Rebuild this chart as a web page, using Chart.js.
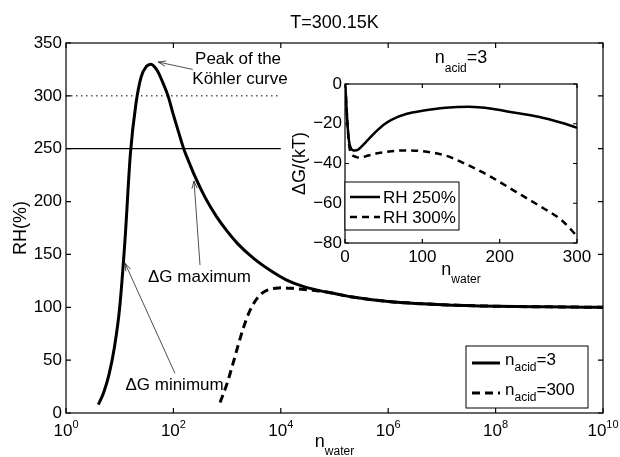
<!DOCTYPE html>
<html>
<head>
<meta charset="utf-8">
<script src="https://cdn.jsdelivr.net/npm/chart.js@4.4.1/dist/chart.umd.min.js"></script>
<style>
  html, body { margin: 0; padding: 0; background: #fff; }
  #wrap { position: relative; width: 620px; height: 457px; }
  #main { position: absolute; left: 0; top: 0; }
  #inset { position: absolute; left: 282px; top: 46px; }
</style>
</head>
<body>
<div id="wrap">
  <canvas id="main" width="620" height="457"></canvas>
  <canvas id="inset" width="318" height="244"></canvas>
</div>
<script>
// --- values ---
const nWaterAcid3 = [4, 5, 6.3, 7.9, 10, 12.6, 15.8, 20, 25.1, 31.6, 38, 50, 63, 79.4, 100, 126, 158, 200, 251, 398, 631, 1000, 1585, 3162, 6310, 12589, 25119, 50119, 1e5, 2e5, 1e6, 1e7, 1e8, 1e9, 1e10];
const rhAcid3 = [8, 19, 36, 61, 100, 165, 245, 292, 318, 328, 330, 324, 313, 300, 282, 265, 249, 236, 224, 203, 186, 172, 160, 146, 135, 126, 120, 116, 113, 110, 105.5, 102.5, 101, 100.4, 100];

const nWaterAcid300 = [741, 1000, 1259, 1585, 1995, 2512, 3162, 3981, 5012, 6310, 7943, 1e4, 15849, 25119, 50119, 1e5, 2e5, 1e6, 1e7, 1e8, 1e9, 1e10];
const rhAcid300 = [10, 28, 45, 63, 80, 94, 104, 111, 115, 117, 118, 118.5, 118, 117, 115.5, 113, 110, 105.5, 102.5, 101, 100.4, 100];

const refRange = [1, 1e4];      // horizontal RH lines span
const rhLevels = [250, 300];

const xTicksMain = [1, 1e2, 1e4, 1e6, 1e8, 1e10];
const xTickExp = ['0', '2', '4', '6', '8', '10'];
const yTicksMain = [0, 50, 100, 150, 200, 250, 300, 350];

// inset: dG/(kT) vs n_water for n_acid = 3
const nWaterInset = [0, 1, 2, 3, 4, 5, 6, 8, 10, 13, 17, 20, 30, 40, 50, 60, 80, 100, 130, 160, 190, 220, 250, 280, 300];
const dG250 = [0, -5, -12, -19, -24, -28, -30.5, -32.5, -33.3, -33.5, -33, -32, -28, -24, -20.5, -18, -15, -13.5, -12, -11.5, -12.5, -14.5, -16.5, -19.5, -22];
const dG300 = [0, -5, -12, -19, -25, -29.5, -32.5, -35, -36, -36.5, -37, -37, -36, -35, -34.3, -33.8, -33.4, -33.8, -36, -41, -47, -54, -61, -68.5, -76.5];

const xTicksInset = [0, 100, 200, 300];
const yTicksInset = [0, -20, -40, -60, -80];

// annotation anchors in data units (n_water, RH)
const peakTip = [52, 332], peakTail = [229, 325];
const maxTip = [242, 219.5], maxTail = [313, 140], maxText = [306, 128];
const minTip = [12.6, 141.6], minTail = [107, 37.5], minText = [105, 26.5];
const peakText1 = [1600, 335], peakText2 = [1740, 316];

const FONT = "'Liberation Sans', Arial, Helvetica, sans-serif";
const font = (px) => px + 'px ' + FONT;

const pts = (xs, ys) => xs.map((x, i) => ({ x: x, y: ys[i] }));

// text with sub/superscript parts: [text, size, dy]
function drawRich(ctx, x, y, parts, align) {
    let w = 0;
    parts.forEach(p => { ctx.font = font(p[1]); w += ctx.measureText(p[0]).width; });
    let cx = align === 'center' ? x - w / 2 : x;
    ctx.textAlign = 'left';
    ctx.textBaseline = 'alphabetic';
    parts.forEach(p => {
        ctx.font = font(p[1]);
        ctx.fillText(p[0], cx, y + (p[2] || 0));
        cx += ctx.measureText(p[0]).width;
    });
}

function drawFrame(ctx, chart, xTicks, yTicks, len) {
    const a = chart.chartArea, sx = chart.scales.x, sy = chart.scales.y;
    ctx.strokeStyle = '#000';
    ctx.lineWidth = 1.2;
    ctx.setLineDash([]);
    ctx.strokeRect(a.left, a.top, a.right - a.left, a.bottom - a.top);
    ctx.beginPath();
    xTicks.forEach(v => {
        const px = sx.getPixelForValue(v);
        ctx.moveTo(px, a.bottom); ctx.lineTo(px, a.bottom - len);
        ctx.moveTo(px, a.top); ctx.lineTo(px, a.top + len);
    });
    yTicks.forEach(v => {
        const py = sy.getPixelForValue(v);
        ctx.moveTo(a.left, py); ctx.lineTo(a.left + len, py);
        ctx.moveTo(a.right, py); ctx.lineTo(a.right - len, py);
    });
    ctx.stroke();
}

function drawArrow(ctx, x0, y0, x1, y1) {
    const ang = Math.atan2(y1 - y0, x1 - x0), L = 8, w = 0.33;
    ctx.beginPath();
    ctx.moveTo(x0, y0); ctx.lineTo(x1, y1);
    ctx.moveTo(x1 - L * Math.cos(ang - w), y1 - L * Math.sin(ang - w));
    ctx.lineTo(x1, y1);
    ctx.lineTo(x1 - L * Math.cos(ang + w), y1 - L * Math.sin(ang + w));
    ctx.stroke();
}

function legendLine(ctx, x0, x1, y, ds) {
    ctx.beginPath();
    ctx.lineWidth = ds.borderWidth;
    ctx.setLineDash(ds.borderDash || []);
    ctx.moveTo(x0, y); ctx.lineTo(x1, y);
    ctx.stroke();
    ctx.setLineDash([]);
}

const mainDecor = {
    id: 'mainDecor',
    afterDraw(chart) {
        const ctx = chart.ctx, a = chart.chartArea, sx = chart.scales.x, sy = chart.scales.y;
        const P = (d) => [sx.getPixelForValue(d[0]), sy.getPixelForValue(d[1])];
        ctx.save();
        drawFrame(ctx, chart, xTicksMain, yTicksMain, 5);
        ctx.fillStyle = '#000';

        // tick labels
        xTicksMain.forEach((v, i) => {
            drawRich(ctx, sx.getPixelForValue(v), a.bottom + 23, [['10', 17], [xTickExp[i], 11, -8]], 'center');
        });
        ctx.font = font(17);
        ctx.textAlign = 'right';
        ctx.textBaseline = 'middle';
        yTicksMain.forEach(v => ctx.fillText(String(v), a.left - 4, sy.getPixelForValue(v)));

        // title and axis labels
        ctx.font = font(18);
        ctx.textAlign = 'center';
        ctx.textBaseline = 'alphabetic';
        ctx.fillText('T=300.15K', (a.left + a.right) / 2, a.top - 15);
        ctx.save();
        ctx.translate(26, (a.top + a.bottom) / 2);
        ctx.rotate(-Math.PI / 2);
        ctx.fillText('RH(%)', 0, 0);
        ctx.restore();
        drawRich(ctx, (a.left + a.right) / 2, a.bottom + 34, [['n', 18], ['water', 12, 8]], 'center');

        // annotations
        ctx.strokeStyle = '#222';
        ctx.lineWidth = 0.8;
        let t = P(peakTail), h = P(peakTip);
        drawArrow(ctx, t[0], t[1], h[0], h[1]);
        t = P(maxTail); h = P(maxTip);
        drawArrow(ctx, t[0], t[1], h[0], h[1]);
        t = P(minTail); h = P(minTip);
        drawArrow(ctx, t[0], t[1], h[0], h[1]);
        ctx.font = font(17);
        ctx.textAlign = 'center';
        ctx.textBaseline = 'middle';
        let p = P(peakText1); ctx.fillText('Peak of the', p[0], p[1]);
        p = P(peakText2); ctx.fillText('Köhler curve', p[0], p[1]);
        p = P(maxText); ctx.fillText('ΔG maximum', p[0], p[1]);
        p = P(minText); ctx.fillText('ΔG minimum', p[0], p[1]);

        // legend
        const ds = chart.data.datasets;
        const bx = a.right - 137, by = a.bottom - 67, bw = 122, bh = 62;
        ctx.fillStyle = '#fff';
        ctx.fillRect(bx, by, bw, bh);
        ctx.strokeStyle = '#000';
        ctx.lineWidth = 1;
        ctx.strokeRect(bx, by, bw, bh);
        ctx.fillStyle = '#000';
        legendLine(ctx, bx + 6, bx + 34, by + 17, ds[0]);
        legendLine(ctx, bx + 6, bx + 34, by + 47, ds[1]);
        drawRich(ctx, bx + 39, by + 19, [['n', 17], ['acid', 12, 6], ['=3', 17]], 'left');
        drawRich(ctx, bx + 39, by + 49, [['n', 17], ['acid', 12, 6], ['=300', 17]], 'left');
        ctx.restore();
    }
};

const insetDecor = {
    id: 'insetDecor',
    afterDraw(chart) {
        const ctx = chart.ctx, a = chart.chartArea, sx = chart.scales.x, sy = chart.scales.y;
        ctx.save();
        drawFrame(ctx, chart, xTicksInset, yTicksInset, 4);
        ctx.fillStyle = '#000';
        ctx.font = font(17);
        ctx.textAlign = 'center';
        ctx.textBaseline = 'alphabetic';
        xTicksInset.forEach(v => ctx.fillText(String(v), sx.getPixelForValue(v), a.bottom + 19));
        ctx.textAlign = 'right';
        ctx.textBaseline = 'middle';
        yTicksInset.forEach(v => ctx.fillText(String(v).replace('-', '\u2212'), a.left - 3, sy.getPixelForValue(v)));

        const cx = (a.left + a.right) / 2;
        drawRich(ctx, cx, a.top - 21, [['n', 18], ['acid', 12, 9], ['=3', 18]], 'center');
        drawRich(ctx, cx, a.bottom + 32, [['n', 18], ['water', 12, 8]], 'center');
        ctx.save();
        ctx.font = font(18);
        ctx.textAlign = 'center';
        ctx.textBaseline = 'alphabetic';
        ctx.translate(23, (a.top + a.bottom) / 2);
        ctx.rotate(-Math.PI / 2);
        ctx.fillText('ΔG/(kT)', 0, 0);
        ctx.restore();

        // legend
        const ds = chart.data.datasets;
        const bx = a.left, by = a.bottom - 61, bw = 114, bh = 48;
        ctx.fillStyle = '#fff';
        ctx.fillRect(bx, by, bw, bh);
        ctx.strokeStyle = '#000';
        ctx.lineWidth = 1;
        ctx.strokeRect(bx, by, bw, bh);
        ctx.fillStyle = '#000';
        legendLine(ctx, bx + 5, bx + 35, by + 15, ds[0]);
        legendLine(ctx, bx + 5, bx + 35, by + 35, ds[1]);
        ctx.font = font(17);
        ctx.textAlign = 'left';
        ctx.textBaseline = 'alphabetic';
        ctx.fillText(ds[0].label, bx + 38, by + 21);
        ctx.fillText(ds[1].label, bx + 38, by + 41);
        ctx.restore();
    }
};

const baseOptions = (padding, xScale, yScale) => ({
    responsive: false,
    animation: false,
    layout: { padding: padding },
    elements: { point: { radius: 0 }, line: { borderColor: '#000', cubicInterpolationMode: 'monotone' } },
    scales: { x: xScale, y: yScale },
    plugins: { legend: { display: false }, tooltip: { enabled: false }, title: { display: false } }
});

new Chart(document.getElementById('main'), {
    type: 'line',
    data: {
        datasets: [
            { label: 'n_acid=3', data: pts(nWaterAcid3, rhAcid3), borderColor: '#000', borderWidth: 3 },
            { label: 'n_acid=300', data: pts(nWaterAcid300, rhAcid300), borderColor: '#000', borderWidth: 3, borderDash: [8, 5] },
            { label: 'RH 250%', data: pts(refRange, [rhLevels[0], rhLevels[0]]), borderColor: '#000', borderWidth: 1.3 },
            { label: 'RH 300%', data: pts(refRange, [rhLevels[1], rhLevels[1]]), borderColor: '#000', borderWidth: 1, borderDash: [1.5, 3.5] }
        ]
    },
    options: baseOptions(
        { left: 66, right: 17, top: 43, bottom: 44 },
        { type: 'logarithmic', min: 1, max: 1e10, display: false },
        { type: 'linear', min: 0, max: 350, display: false }
    ),
    plugins: [mainDecor]
});

new Chart(document.getElementById('inset'), {
    type: 'line',
    data: {
        datasets: [
            { label: 'RH 250%', data: pts(nWaterInset, dG250), borderColor: '#000', borderWidth: 2.5 },
            { label: 'RH 300%', data: pts(nWaterInset, dG300), borderColor: '#000', borderWidth: 2.5, borderDash: [7, 5] }
        ]
    },
    options: baseOptions(
        { left: 63, right: 23, top: 38, bottom: 47 },
        { type: 'linear', min: 0, max: 300, display: false },
        { type: 'linear', min: -80, max: 0, display: false }
    ),
    plugins: [insetDecor]
});
</script>
</body>
</html>
